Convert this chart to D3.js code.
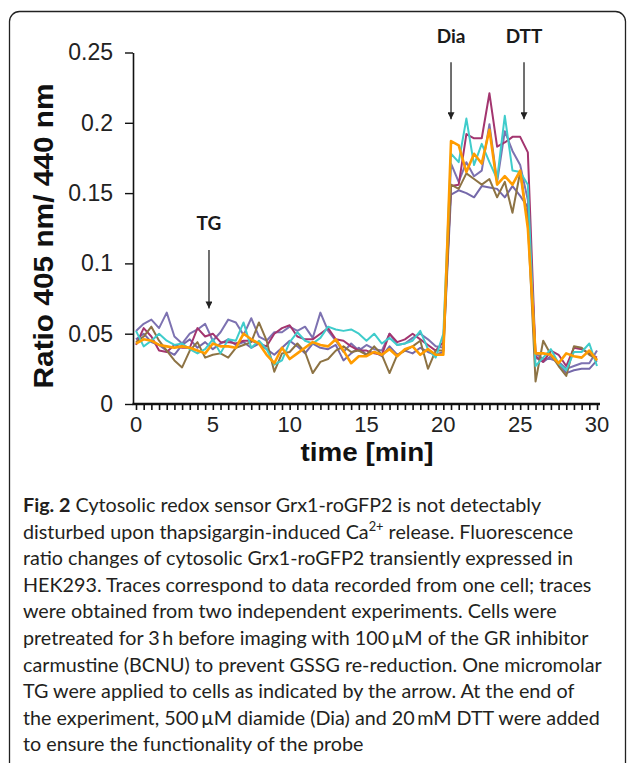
<!DOCTYPE html>
<html>
<head>
<meta charset="utf-8">
<script src="https://cdn.jsdelivr.net/npm/d3@7"></script>
<style>
  body { margin: 0; background: #fff; }
  svg { display: block; }
</style>
</head>
<body>
<svg id="chart" width="627" height="763"></svg>
<script>
// time points (min), one every 30 s
var times = [0,0.5,1,1.5,2,2.5,3,3.5,4,4.5,5,5.5,6,6.5,7,7.5,8,8.5,9,9.5,
  10,10.5,11,11.5,12,12.5,13,13.5,14,14.5,15,15.5,16,16.5,17,17.5,18,18.5,19,19.5,
  20,20.5,21,21.5,22,22.5,23,23.5,24,24.5,25,25.5,26,26.5,27,27.5,28,28.5,29,29.5,30];

var purpleA = [0.052,0.057,0.060,0.054,0.065,0.048,0.043,0.050,0.053,0.057,0.045,0.051,0.060,0.058,0.049,0.061,0.048,0.045,0.051,0.051,
  0.055,0.052,0.055,0.047,0.065,0.052,0.045,0.037,0.043,0.038,0.042,0.039,0.038,0.050,0.042,0.043,0.047,0.050,0.046,0.041,
  0.040,0.171,0.158,0.172,0.162,0.166,0.199,0.158,0.194,0.180,0.170,0.145,
  0.036,0.032,0.032,0.030,0.025,0.027,0.029,0.029,0.038];
var purpleB = [0.046,0.050,0.044,0.042,0.038,0.035,0.042,0.046,0.040,0.044,0.039,0.043,0.046,0.042,0.044,0.040,0.043,0.039,0.035,0.040,
  0.045,0.041,0.036,0.043,0.040,0.039,0.042,0.031,0.036,0.040,0.035,0.037,0.034,0.041,0.035,0.038,0.036,0.040,0.037,0.035,
  0.037,0.149,0.152,0.150,0.147,0.155,0.154,0.153,0.147,0.155,0.148,0.140,
  0.033,0.030,0.034,0.029,0.022,0.024,0.025,0.025,0.031];
var magenta = [0.042,0.054,0.048,0.038,0.037,0.042,0.040,0.040,0.054,0.048,0.050,0.044,0.044,0.043,0.045,0.045,0.043,0.041,0.050,0.054,
  0.056,0.048,0.046,0.046,0.050,0.054,0.046,0.045,0.041,0.038,0.038,0.036,0.035,0.050,0.044,0.046,0.050,0.046,0.042,0.038,
  0.044,0.155,0.156,0.192,0.189,0.189,0.221,0.183,0.186,0.190,0.190,0.179,
  0.034,0.030,0.038,0.035,0.027,0.040,0.039,0.036,0.033];
var brown = [0.044,0.048,0.055,0.045,0.038,0.031,0.026,0.038,0.044,0.033,0.035,0.036,0.033,0.040,0.042,0.044,0.058,0.045,0.023,0.036,
  0.037,0.043,0.037,0.022,0.030,0.032,0.038,0.041,0.037,0.038,0.035,0.041,0.035,0.022,0.035,0.038,0.041,0.045,0.025,0.038,
  0.038,0.156,0.153,0.164,0.160,0.156,0.160,0.147,0.158,0.136,0.165,0.130,
  0.016,0.045,0.035,0.027,0.020,0.041,0.040,0.035,0.032];
var cyan = [0.052,0.041,0.045,0.050,0.045,0.042,0.043,0.039,0.036,0.039,0.046,0.036,0.046,0.045,0.058,0.040,0.045,0.039,0.028,0.031,
  0.044,0.051,0.045,0.043,0.047,0.055,0.053,0.052,0.053,0.050,0.045,0.050,0.043,0.047,0.042,0.043,0.045,0.052,0.039,0.033,
  0.050,0.178,0.172,0.203,0.170,0.185,0.172,0.160,0.205,0.166,0.165,0.156,
  0.027,0.033,0.039,0.029,0.024,0.037,0.037,0.043,0.027];
var orange = [0.043,0.046,0.045,0.042,0.041,0.040,0.041,0.040,0.038,0.036,0.043,0.041,0.041,0.040,0.050,0.046,0.043,0.035,0.029,0.040,
  0.032,0.036,0.040,0.044,0.042,0.041,0.046,0.038,0.029,0.034,0.034,0.037,0.035,0.039,0.034,0.039,0.041,0.035,0.039,0.035,
  0.035,0.187,0.184,0.165,0.178,0.171,0.195,0.156,0.162,0.156,0.166,0.125,
  0.036,0.036,0.035,0.029,0.036,0.034,0.033,0.038,0.031];

var series = [
  {name: "cell 1", values: purpleA, color: "#7d72b1", width: 2},
  {name: "cell 2", values: purpleB, color: "#7569aa", width: 2},
  {name: "cell 3", values: magenta, color: "#a3356f", width: 2},
  {name: "cell 4", values: brown, color: "#8d7344", width: 2},
  {name: "cell 5", values: cyan, color: "#3fcccb", width: 2},
  {name: "cell 6", values: orange, color: "#ff9c00", width: 2.6}
];

var yTicks = [0, 0.05, 0.1, 0.15, 0.2, 0.25];
var xTicks = [0, 5, 10, 15, 20, 25, 30];

// treatments marked by arrows
var events = [
  {label: "TG", t: 4.75, top: 0.1095, tip: 0.068, text: 0.124},
  {label: "Dia", t: 20.5, top: 0.243, tip: 0.2025, text: 0.257},
  {label: "DTT", t: 25.25, top: 0.243, tip: 0.2025, text: 0.257}
];

var captionLines = [
  [["Fig. 2", "b"], [" Cytosolic redox sensor Grx1-roGFP2 is not detectably"]],
  [["disturbed upon thapsigargin-induced Ca"], ["2+", "sup"], [" release. Fluorescence", "after"]],
  [["ratio changes of cytosolic Grx1-roGFP2 transiently expressed in"]],
  [["HEK293. Traces correspond to data recorded from one cell; traces"]],
  [["were obtained from two independent experiments. Cells were"]],
  [["pretreated for 3\u2009h before imaging with 100\u2009\u00b5M of the GR inhibitor"]],
  [["carmustine (BCNU) to prevent GSSG re-reduction. One micromolar"]],
  [["TG were applied to cells as indicated by the arrow. At the end of"]],
  [["the experiment, 500\u2009\u00b5M diamide (Dia) and 20\u2009mM DTT were added"]],
  [["to ensure the functionality of the probe"]]
];

var svg = d3.select("#chart");

svg.append("rect")
  .attr("x", 9.5).attr("y", 11.5)
  .attr("width", 616).attr("height", 780)
  .attr("rx", 10)
  .attr("fill", "none")
  .attr("stroke", "#222")
  .attr("stroke-width", 1.3);

var x = d3.scaleLinear().domain([0, 30]).range([136, 597]);
var y = d3.scaleLinear().domain([0, 0.25]).range([404, 52.5]);

// y axis
var yAxis = svg.append("g")
  .attr("transform", "translate(133,0)")
  .call(d3.axisLeft(y).tickValues(yTicks).tickSize(8).tickSizeOuter(0).tickPadding(12)
    .tickFormat(function(d) { return String(d); }));
yAxis.select(".domain").attr("stroke", "#111").attr("stroke-width", 1.6);
yAxis.selectAll(".tick line").attr("stroke", "#111").attr("stroke-width", 1.4);
yAxis.selectAll("text")
  .attr("font-family", "'Liberation Sans', Arial, sans-serif")
  .attr("font-size", 23)
  .attr("fill", "#222");

// x axis: small ticks every 0.5 min
var xAxis = svg.append("g")
  .attr("transform", "translate(0,404)")
  .call(d3.axisBottom(x).tickValues(times).tickSize(6).tickSizeOuter(0).tickFormat(""));
xAxis.select(".domain").remove();
xAxis.selectAll(".tick line").attr("stroke", "#111").attr("stroke-width", 1.6);
svg.append("line")
  .attr("x1", 132.5).attr("x2", 600)
  .attr("y1", 404).attr("y2", 404)
  .attr("stroke", "#111").attr("stroke-width", 2.6);

svg.append("g").selectAll("text")
  .data(xTicks)
  .join("text")
  .attr("x", function(d) { return x(d); })
  .attr("y", 432)
  .attr("text-anchor", "middle")
  .attr("font-family", "'Liberation Sans', Arial, sans-serif")
  .attr("font-size", 22)
  .attr("fill", "#222")
  .text(function(d) { return d; });

// axis titles
svg.append("text")
  .attr("transform", "translate(53,236) rotate(-90)")
  .attr("text-anchor", "middle")
  .attr("font-family", "'Liberation Sans', Arial, sans-serif")
  .attr("font-weight", "bold")
  .attr("font-size", 27)
  .attr("textLength", 305)
  .attr("lengthAdjust", "spacingAndGlyphs")
  .attr("fill", "#111")
  .text("Ratio 405 nm/ 440 nm");

svg.append("text")
  .attr("x", 367).attr("y", 461)
  .attr("text-anchor", "middle")
  .attr("font-family", "'Liberation Sans', Arial, sans-serif")
  .attr("font-weight", "bold")
  .attr("font-size", 25)
  .attr("textLength", 133)
  .attr("lengthAdjust", "spacingAndGlyphs")
  .attr("fill", "#111")
  .text("time [min]");

// traces
var line = d3.line()
  .x(function(d, i) { return x(times[i]); })
  .y(function(d) { return y(d); });

svg.append("g").selectAll("path")
  .data(series)
  .join("path")
  .attr("d", function(s) { return line(s.values); })
  .attr("fill", "none")
  .attr("stroke", function(s) { return s.color; })
  .attr("stroke-width", function(s) { return s.width; })
  .attr("stroke-linejoin", "round");

// arrows
svg.append("defs").append("marker")
  .attr("id", "head")
  .attr("viewBox", "0 0 10 10")
  .attr("refX", 10).attr("refY", 5)
  .attr("markerWidth", 7).attr("markerHeight", 7)
  .attr("markerUnits", "userSpaceOnUse")
  .attr("orient", "auto")
  .append("path")
  .attr("d", "M0,0 L10,5 L0,10 Z")
  .attr("fill", "#222");

var ev = svg.append("g").selectAll("g").data(events).join("g");
ev.append("line")
  .attr("x1", function(d) { return x(d.t); })
  .attr("x2", function(d) { return x(d.t); })
  .attr("y1", function(d) { return y(d.top); })
  .attr("y2", function(d) { return y(d.tip); })
  .attr("stroke", "#333")
  .attr("stroke-width", 1.4)
  .attr("marker-end", "url(#head)");
ev.append("text")
  .attr("x", function(d) { return x(d.t); })
  .attr("y", function(d) { return y(d.text); })
  .attr("text-anchor", "middle")
  .attr("font-family", "Lato, 'Open Sans', sans-serif")
  .attr("font-weight", "bold")
  .attr("font-size", 19)
  .attr("fill", "#1a1a1a")
  .text(function(d) { return d.label; });

// caption
var cap = svg.append("g")
  .attr("font-family", "Lato, 'Noto Sans', sans-serif")
  .attr("font-size", 20)
  .attr("fill", "#231f20");

captionLines.forEach(function(parts, i) {
  var t = cap.append("text")
    .attr("x", 23)
    .attr("y", 512 + i * 26.6);
  parts.forEach(function(p) {
    var span = t.append("tspan").text(p[0]);
    if (p[1] === "b") span.attr("font-weight", "bold");
    if (p[1] === "sup") span.attr("font-size", "0.65em").attr("dy", -8);
    if (p[1] === "after") span.attr("dy", 8);
  });
});

// fit caption width to the reference (widest line ends near x = 600)
var widest = cap.selectAll("text").nodes()[8].getComputedTextLength();
cap.attr("font-size", 20 * 577 / widest);
</script>
</body>
</html>
